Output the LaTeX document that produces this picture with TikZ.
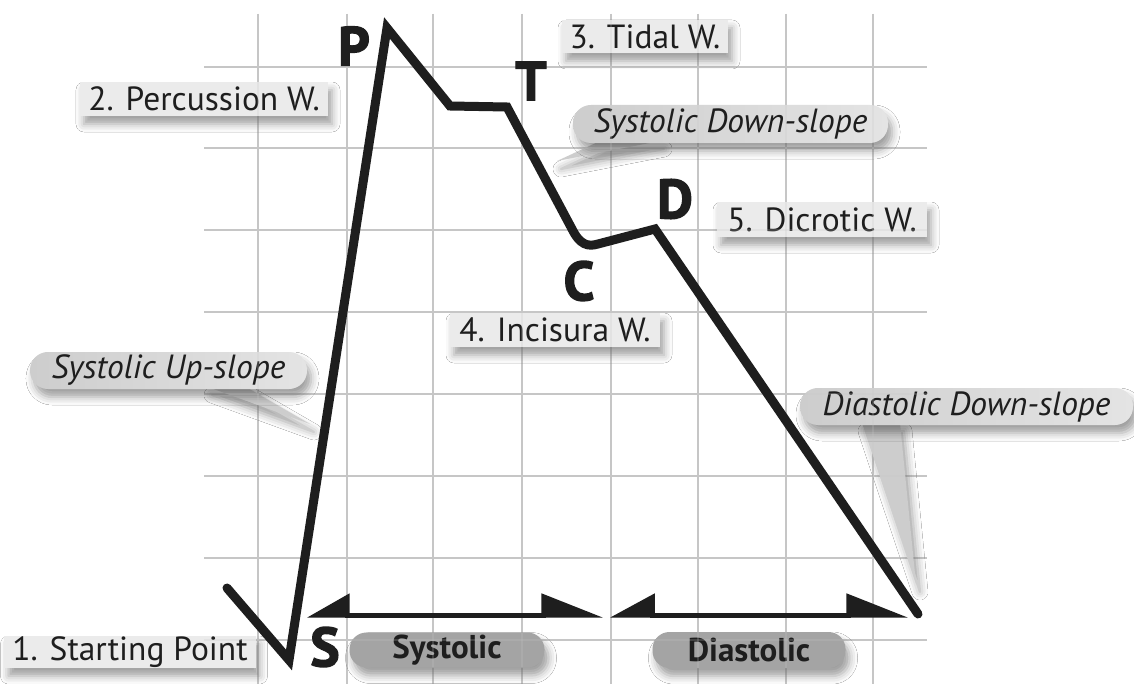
\documentclass[tikz,border=0pt]{standalone}
\usepackage{fontspec}
\setmainfont{PT Sans}
\newfontfamily\heavyfont{PT Sans}[BoldFeatures={FakeBold=2.5}]
\usetikzlibrary{shadows.blur,arrows.meta}

\definecolor{gridc}{HTML}{C6C6C6}
\definecolor{boxc}{HTML}{EBEBEB}
\definecolor{pillA}{HTML}{CDCDCD}
\definecolor{pillB}{HTML}{E4E4E4}
\definecolor{darkpill}{HTML}{A4A4A4}
\definecolor{ink}{HTML}{1E1E1E}

\newcommand\mygrid[1]{%
  \foreach \gx in {258,347,433,522,611,698,786,873} \draw[gridline,#1] (\gx,14) -- (\gx,684);
  \foreach \gy in {67,148,230,312,394,476,558,640} \draw[gridline,#1] (204,\gy) -- (927,\gy);
}

\tikzset{
  gridline/.style={draw=gridc, line width=2.6bp},
  softshadow/.style={blur shadow={shadow xshift=4bp, shadow yshift=-8bp, shadow blur radius=8bp, shadow opacity=38}},
  labelbox/.style={fill=boxc, inner sep=0pt, text=ink, softshadow,
    font=\fontsize{33.5bp}{36bp}\selectfont},
  calloutpill/.style={left color=pillA, right color=pillB, inner sep=0pt, text=ink, softshadow,
    rounded corners=18bp, font=\fontsize{33.5bp}{36bp}\selectfont\itshape},
  callouttail/.style={fill=pillA, softshadow},
  phasepill/.style={fill=darkpill, inner sep=0pt, text=ink, softshadow,
    rounded corners=17bp, font=\fontsize{33bp}{36bp}\selectfont\bfseries},
  bigletter/.style={inner sep=0pt, text=ink, font=\fontsize{55bp}{60bp}\heavyfont\bfseries},
  wave/.style={draw=ink, line width=9bp, line join=miter, line cap=round},
  phasearrow/.style={draw=ink, line width=5bp},
}

\begin{document}
\begin{tikzpicture}[x=1bp,y=-1bp]
\useasboundingbox (0,0) rectangle (1134,684);
\fill[white] (0,0) rectangle (1134,684);

% grid
\mygrid{}

% callout tails
\fill[callouttail] (208,387) -- (310,424) -- (246,387) -- cycle;
\fill[callouttail] (557,161) -- (600,141) -- (660,141) -- cycle;
\fill[callouttail] (862,423) -- (916,584) -- (900,423) -- cycle;

% label boxes
\node[labelbox, minimum width=251bp, minimum height=32bp] (start) at (130,652) {1. Starting Point};
\node[labelbox, minimum width=248bp, minimum height=34bp] (perc) at (204,99) {2. Percussion W.};
\node[labelbox, minimum width=166bp, minimum height=33bp] (tidal) at (645,36.5) {3. Tidal W.};
\node[labelbox, minimum width=210bp, minimum height=34bp] (inc) at (555,330) {4. Incisura W.};
\node[labelbox, minimum width=210bp, minimum height=35bp] (dic) at (822,219.5) {5. Dicrotic W.};

% callout pills
\node[calloutpill, minimum width=277bp, minimum height=37bp] (sup) at (168.5,370.5) {Systolic Up-slope};
\node[calloutpill, minimum width=315bp, minimum height=38bp] (sdown) at (730.5,124) {Systolic Down-slope};
\node[calloutpill, minimum width=333bp, minimum height=37bp] (ddown) at (966.5,406.5) {Diastolic Down-slope};

% phase pills
\node[phasepill, minimum width=195bp, minimum height=35bp] (sys) at (447,650) {Systolic};
\node[phasepill, minimum width=193bp, minimum height=36bp] (dia) at (749,650) {Diastolic};

% faint grid showing through the boxes
\mygrid{opacity=0.22}

% phase arrows
\coordinate (sysL) at (307,615);
\coordinate (sysR) at (603,615);
\coordinate (diaL) at (610,615);
\coordinate (diaR) at (908,615);
\draw[phasearrow, {Triangle[harpoon,swap,length=38bp,width=42bp]}-{Triangle[harpoon,length=55bp,width=42bp]}] (sysL) -- (sysR);
\draw[phasearrow, {Triangle[harpoon,swap,length=40bp,width=42bp]}-{Triangle[harpoon,length=55bp,width=42bp]}] (diaL) -- (diaR);

% pulse wave
\coordinate (w0) at (227,588);
\coordinate (wS) at (289,660);
\coordinate (wP) at (387,28);
\coordinate (wP2) at (450,106);
\coordinate (wT) at (507,107);
\coordinate (wC1) at (572,229);
\coordinate (wC2) at (598,244);
\coordinate (wD) at (655,229);
\coordinate (wE) at (918,614);
\draw[wave] (w0) -- (wS) -- (wP) -- (wP2) -- (wT) -- (wC1) .. controls (580,245) and (588,247) .. (wC2) -- (wD) -- (wE);

% letters
\node[bigletter] (lP) at (354,46) {P};
\node[bigletter] (lT) at (531,81) {T};
\node[bigletter] (lD) at (675,199) {D};
\node[bigletter] (lC) at (579,281) {C};
\node[bigletter] (lS) at (325,647) {S};
\end{tikzpicture}
\end{document}
